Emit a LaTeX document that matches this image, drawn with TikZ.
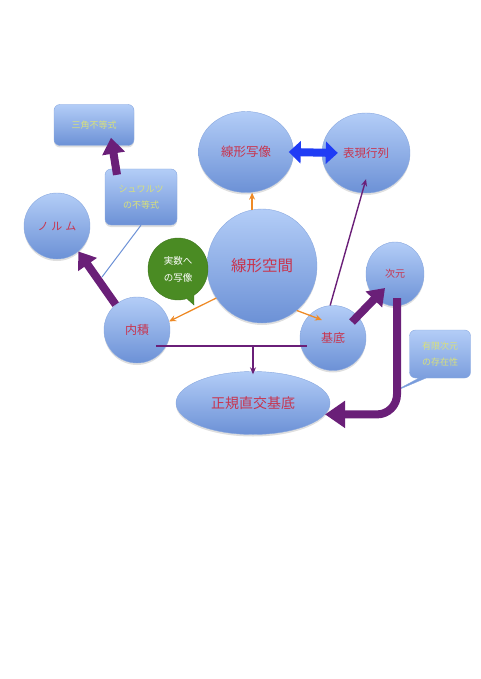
\documentclass[tikz,border=0pt]{standalone}
\usepackage{fontspec}
\setmainfont{Noto Sans CJK JP}
\usetikzlibrary{arrows.meta,calc,positioning,shapes.geometric,shapes.callouts,shadows}
\definecolor{SkyTop}{HTML}{B3CDF7}
\definecolor{SkyBot}{HTML}{6C91D6}
\definecolor{SkyEdge}{HTML}{89A8DF}
\definecolor{Rose}{HTML}{C8344E}
\definecolor{Straw}{HTML}{D8E07A}
\definecolor{Moss}{HTML}{4A8B23}
\definecolor{Plum}{HTML}{6A1F78}
\definecolor{Amber}{HTML}{EE8A26}
\definecolor{Azure}{HTML}{1F3CF5}

\tikzset{
  bubble/.style={ellipse,inner sep=0pt,draw=SkyEdge,top color=SkyTop,bottom color=SkyBot,
    text=Rose,drop shadow={opacity=0.25,shadow xshift=0pt,shadow yshift=-2pt}},
  card/.style={rectangle,rounded corners=6pt,draw=SkyEdge,top color=SkyTop,bottom color=SkyBot,
    text=Straw,align=center,font=\fontsize{9}{16}\selectfont,
    drop shadow={opacity=0.25,shadow xshift=0pt,shadow yshift=-2pt}},
  thin/.style={Plum,line width=1.4pt,-{Stealth[length=7pt,width=6pt]}},
  orange/.style={Amber,line width=1.3pt,-{Stealth[length=7pt,width=6pt]}},
  fat/.style={Plum,line width=8pt,-{Triangle[length=16pt,width=22pt]}}
}

\begin{document}
\begin{tikzpicture}[x=1pt,y=-1pt]
  \useasboundingbox (0,0) rectangle (480,679);

  % callout tips
  \coordinate (realtip) at (194,305);
  \coordinate (finitetip) at (393,392);
  \coordinate (schwarztip) at (102,277);

  % balloons
  \node[bubble,minimum width=110pt,minimum height=114pt,font=\fontsize{15.5}{18}\selectfont] (kukan) at (262,266) {線形空間};
  \node[bubble,minimum width=95pt,minimum height=81pt,font=\fontsize{12.5}{15}\selectfont] (shazo) at (246,152) {線形写像};
  \node[bubble,minimum width=88pt,minimum height=80pt,font=\fontsize{11.5}{14}\selectfont] (gyoretsu) at (366,153) {表現行列};
  \node[bubble,minimum width=66pt,minimum height=66pt,font=\fontsize{11}{14}\selectfont] (norm) at (57,226) {ノ\hspace{3pt}ル\hspace{3pt}ム};
  \node[bubble,minimum width=66pt,minimum height=66pt,font=\fontsize{12}{14}\selectfont] (naiseki) at (137,330) {内積};
  \node[bubble,minimum width=66pt,minimum height=65pt,font=\fontsize{12}{14}\selectfont] (kitei) at (333,338) {基底};
  \node[bubble,minimum width=58pt,minimum height=64pt,font=\fontsize{10}{12}\selectfont] (jigen) at (395,274) {次元};
  \node[bubble,minimum width=154pt,minimum height=63pt,font=\fontsize{14}{17}\selectfont] (seiki) at (253,403) {正規直交基底};

  % boxes
  \node[card,minimum width=80pt,minimum height=41pt] (sankaku) at (94,125) {三角不等式};
  \node[card,minimum width=72pt,minimum height=56pt] (schwarz) at (141,197) {シュワルツ\\の不等式};
  \draw[SkyBot,line width=1pt] (schwarz.south) -- (schwarztip);
  \node[ellipse callout,callout absolute pointer={(realtip)},fill=Moss,draw=Moss!85!black,
    minimum width=60pt,minimum height=62pt,inner sep=0pt,text=white,align=center,
    font=\fontsize{9.5}{17}\selectfont] (real) at (178,269) {実数へ\\の写像};
  \node[rectangle callout,callout absolute pointer={(finitetip)},rounded corners=6pt,
    draw=SkyEdge,top color=SkyTop,bottom color=SkyBot,text=Straw,align=center,
    minimum width=61pt,minimum height=48pt,font=\fontsize{9}{16}\selectfont] (finite) at (440,354) {有限次元\\の存在性};

  % connectors
  \coordinate (barL) at ([xshift=19pt,yshift=-16pt]naiseki.center);
  \coordinate (barR) at ([xshift=-26pt,yshift=-8pt]kitei.center);
  \draw[orange] (kukan.100) -- (kukan.100 |- shazo.south);
  \draw[orange] (kukan.215) -- (naiseki.15);
  \draw[orange] (kukan.-52) -- ([xshift=-11pt,yshift=18pt]kitei.center);
  \draw[thin] (kitei.95) -- ([yshift=14pt]gyoretsu.south);
  \draw[Plum,line width=1.4pt] (barL) -- (barR);
  \draw[thin] (seiki.north |- barL) -- ([yshift=-3pt]seiki.north);
  \draw[Azure,line width=8pt,{Triangle[length=12pt,width=22pt]}-{Triangle[length=12pt,width=22pt]}]
    ([xshift=-5pt]shazo.east) -- ([xshift=16pt]gyoretsu.west);
  \draw[fat] (naiseki.130) -- (norm.-50);
  \draw[fat] ([xshift=-24pt,yshift=-6pt]schwarz.north) -- ([xshift=17pt,yshift=8pt]sankaku.south);
  \draw[fat] ([xshift=19pt,yshift=16pt]kitei.center) -- ([xshift=-10pt,yshift=-14pt]jigen.center);
  \draw[fat,rounded corners=20pt,-{Triangle[length=20pt,width=26pt]}] ([xshift=2pt,yshift=8pt]jigen.south) |- (seiki.-9);
\end{tikzpicture}
\end{document}
